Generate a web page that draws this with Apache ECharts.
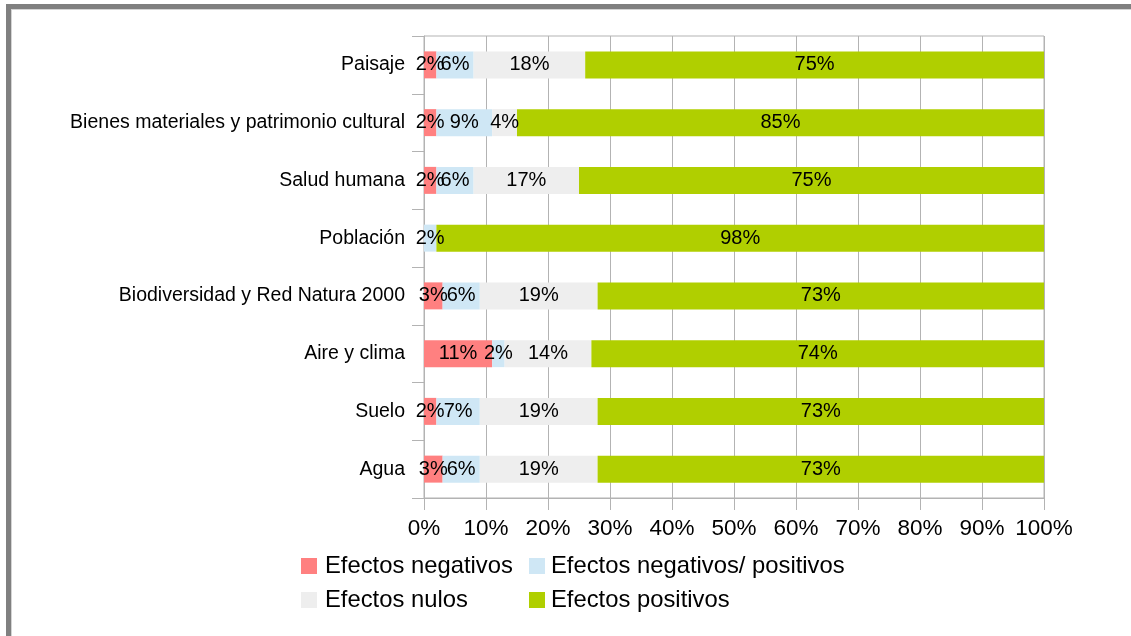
<!DOCTYPE html>
<html>
<head>
<meta charset="utf-8">
<script src="https://cdn.jsdelivr.net/npm/echarts@6/dist/echarts.min.js"></script>
<style>
  html, body { margin: 0; padding: 0; background: #ffffff; }
  #chart { width: 1131px; height: 636px; }
</style>
</head>
<body>
<div id="chart"></div>
<script>
// Categories, top to bottom
const categories = [
  'Paisaje',
  'Bienes materiales y patrimonio cultural',
  'Salud humana',
  'Población',
  'Biodiversidad y Red Natura 2000',
  'Aire y clima',
  'Suelo',
  'Agua'
];

// Share of effects per factor (%)
const negativos = [2, 2, 2, 0, 3, 11, 2, 3];
const negativosPositivos = [6, 9, 6, 2, 6, 2, 7, 6];
const nulos = [18, 4, 17, 0, 19, 14, 19, 19];
const positivos = [75, 85, 75, 98, 73, 74, 73, 73];

const seriesNames = ['Efectos negativos', 'Efectos negativos/ positivos', 'Efectos nulos', 'Efectos positivos'];
const seriesColors = ['#ff8080', '#cfe7f5', '#eeeeee', '#b0cf00'];
const seriesValues = [negativos, negativosPositivos, nulos, positivos];

const FONT = '"Liberation Sans", Arial, sans-serif';
const GRID_COLOR = '#b3b3b3';

const chart = echarts.init(document.getElementById('chart'), null, { renderer: 'canvas' });

const series = seriesNames.map((name, i) => ({
  name: name,
  type: 'bar',
  stack: 'total',
  barWidth: 27,
  itemStyle: { color: seriesColors[i] },
  label: {
    show: true,
    position: 'inside',
    color: '#000',
    fontFamily: FONT,
    fontSize: 20,
    formatter: p => (p.value ? p.value + '%' : '')
  },
  emphasis: { disabled: true },
  data: seriesValues[i]
}));

// One legend block per entry so the two-column layout is fixed
const legendPos = [
  { left: 301, top: 554, gap: 3 },
  { left: 529, top: 554, gap: 1 },
  { left: 301, top: 588, gap: 3 },
  { left: 529, top: 588, gap: 1 }
];
const legends = seriesNames.map((name, i) => ({
  data: [name],
  left: legendPos[i].left,
  top: legendPos[i].top,
  padding: 0,
  icon: 'rect',
  itemWidth: 16,
  itemHeight: 16,
  selectedMode: false,
  textStyle: {
    color: '#000',
    fontFamily: FONT,
    fontSize: 23.8,
    padding: [0, 0, 0, legendPos[i].gap]
  }
}));

chart.setOption({
  backgroundColor: '#ffffff',
  animation: false,
  legend: legends,
  grid: {
    left: 424,
    right: 87,
    top: 36,
    bottom: 138,
    show: true,
    borderColor: GRID_COLOR,
    borderWidth: 1,
    containLabel: false
  },
  xAxis: {
    type: 'value',
    min: 0,
    max: 100,
    interval: 10,
    axisLine: { show: true, lineStyle: { color: GRID_COLOR, width: 1 } },
    axisTick: { show: true, length: 12, lineStyle: { color: GRID_COLOR } },
    splitLine: { show: true, lineStyle: { color: GRID_COLOR, width: 1 } },
    axisLabel: {
      color: '#000',
      fontFamily: FONT,
      fontSize: 22.5,
      margin: 19,
      formatter: '{value}%'
    }
  },
  yAxis: {
    type: 'category',
    data: categories,
    inverse: true,
    axisLine: { show: true, lineStyle: { color: GRID_COLOR, width: 1 } },
    axisTick: { show: true, length: 12, lineStyle: { color: GRID_COLOR } },
    axisLabel: {
      color: '#000',
      fontFamily: FONT,
      fontSize: 19.5,
      margin: 19
    }
  },
  series: series,
  graphic: [
    // window frame along the top and left edges
    { type: 'rect', shape: { x: 6, y: 4, width: 1125, height: 5 }, style: { fill: '#808080' }, silent: true, z: 100 },
    { type: 'rect', shape: { x: 6, y: 4, width: 5, height: 632 }, style: { fill: '#808080' }, silent: true, z: 100 },
    { type: 'rect', shape: { x: 11, y: 9, width: 1120, height: 1 }, style: { fill: '#d4d4d4' }, silent: true, z: 100 },
    { type: 'rect', shape: { x: 11, y: 9, width: 1, height: 627 }, style: { fill: '#d4d4d4' }, silent: true, z: 100 }
  ]
});
</script>
</body>
</html>
